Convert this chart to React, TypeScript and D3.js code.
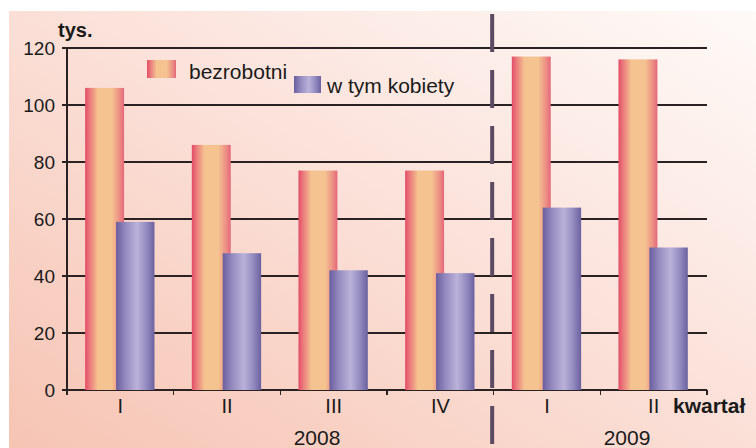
import React from 'react';
import * as d3 from 'd3';

const quarters = ['I', 'II', 'III', 'IV', 'I', 'II'];
const bezrobotni = [106, 86, 77, 77, 117, 116];
const kobiety = [59, 48, 42, 41, 64, 50];
const yTicks = [0, 20, 40, 60, 80, 100, 120];
const years = [
  { label: '2008', x: 317 },
  { label: '2009', x: 627 },
];

const W = 756;
const H = 448;

export default function App() {
  const keys = quarters.map((q, i) => i);
  const x = d3.scaleBand<number>().domain(keys).range([67, 707]).paddingInner(0).paddingOuter(0);
  const y = d3.scaleLinear().domain([0, 120]).range([390, 48]);
  const bw = x.bandwidth();
  const font = 'Liberation Sans, Arial, sans-serif';
  const dividerX = (x(3) as number) + bw - 1.5;

  return (
    <svg width={W} height={H} style={{ position: 'absolute', left: 0, top: 0 }}>
      <defs>
        <linearGradient id="bg" x1="1" y1="0" x2="0" y2="1">
          <stop offset="0%" stopColor="#fefaf8" />
          <stop offset="45%" stopColor="#fbe2da" />
          <stop offset="100%" stopColor="#f6c4b3" />
        </linearGradient>
        <linearGradient id="orange" x1="0" y1="0" x2="1" y2="0">
          <stop offset="0%" stopColor="#e34c66" />
          <stop offset="12%" stopColor="#ea7a7c" />
          <stop offset="33%" stopColor="#f5c390" />
          <stop offset="68%" stopColor="#f5c390" />
          <stop offset="88%" stopColor="#ec8f84" />
          <stop offset="100%" stopColor="#e5677a" />
        </linearGradient>
        <linearGradient id="purple" x1="0" y1="0" x2="1" y2="0">
          <stop offset="0%" stopColor="#6a5f9e" />
          <stop offset="25%" stopColor="#958bc0" />
          <stop offset="55%" stopColor="#bab2d9" />
          <stop offset="80%" stopColor="#9289bf" />
          <stop offset="100%" stopColor="#6b619f" />
        </linearGradient>
      </defs>
      <rect x={0} y={0} width={W} height={H} fill="#ffffff" />
      <rect x={9} y={11} width={W - 9} height={H - 11} fill="url(#bg)" />

      {/* gridlines */}
      {yTicks.filter((t) => t > 0).map((t) => (
        <line key={t} x1={62} x2={707} y1={y(t)} y2={y(t)} stroke="#2a2222" strokeWidth={1.5} shapeRendering="crispEdges" />
      ))}
      {/* axes */}
      <line x1={67} x2={67} y1={48} y2={395} stroke="#2a2222" strokeWidth={1.5} shapeRendering="crispEdges" />
      <line x1={62} x2={707} y1={390} y2={390} stroke="#2a2222" strokeWidth={1.5} shapeRendering="crispEdges" />
      {yTicks.map((t) => (
        <text key={'l' + t} x={55} y={y(t)} dy="0.36em" textAnchor="end" fontFamily={font} fontSize={19} fill="#1a1a1a">
          {t}
        </text>
      ))}
      {/* x ticks */}
      {[...keys, 6].map((k) => {
        const xx = k < 6 ? (x(k) as number) : 707;
        return <line key={'t' + k} x1={xx} x2={xx} y1={390} y2={395} stroke="#2a2222" strokeWidth={1.5} shapeRendering="crispEdges" />;
      })}

      {/* bars */}
      {keys.map((k) => {
        const x0 = x(k) as number;
        return (
          <g key={'b' + k}>
            <rect x={x0 + bw * 0.17} y={y(bezrobotni[k])} width={bw * 0.365} height={390 - y(bezrobotni[k])} fill="url(#orange)" />
            <rect x={x0 + bw * 0.46} y={y(kobiety[k])} width={bw * 0.36} height={390 - y(kobiety[k])} fill="url(#purple)" />
            <text x={x0 + bw / 2} y={413} textAnchor="middle" fontFamily={font} fontSize={20} fill="#1a1a1a">
              {quarters[k]}
            </text>
          </g>
        );
      })}

      {/* divider */}
      <line x1={dividerX} x2={dividerX} y1={14} y2={H} stroke="#5b4a62" strokeWidth={4} strokeDasharray="38 18" />

      {years.map((yr) => (
        <text key={yr.label} x={yr.x} y={445} textAnchor="middle" fontFamily={font} fontSize={21} fill="#1a1a1a">
          {yr.label}
        </text>
      ))}

      <text x={58} y={37} fontFamily={font} fontSize={20} fontWeight="bold" fill="#1a1a1a">tys.</text>
      <text x={673} y={413} fontFamily={font} fontSize={21} fontWeight="bold" fill="#1a1a1a">kwartał</text>

      {/* legend */}
      <rect x={147} y={60} width={29} height={18} fill="url(#orange)" />
      <text x={189} y={79} fontFamily={font} fontSize={21} fill="#1a1a1a">bezrobotni</text>
      <rect x={294} y={76} width={27} height={17} fill="url(#purple)" />
      <text x={327} y={93} fontFamily={font} fontSize={21} fill="#1a1a1a">w tym kobiety</text>
    </svg>
  );
}
